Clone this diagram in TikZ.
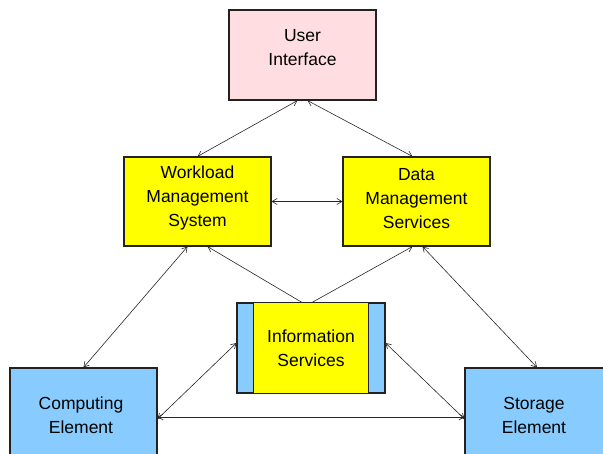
\documentclass[tikz,border=0pt]{standalone}
\usepackage{fontspec}
\setmainfont{Liberation Sans}
\usetikzlibrary{arrows.meta}
\definecolor{uipink}{HTML}{FFDDE1}
\definecolor{boxyellow}{HTML}{FFFF00}
\definecolor{skyblue}{HTML}{88CCFF}
\definecolor{edge}{HTML}{222222}
\tikzset{
  box/.style={draw=edge, line width=1.1pt, rectangle, inner sep=0pt,
    align=center, font=\fontsize{17.5}{24}\selectfont},
  label/.style={inner sep=0pt, align=center, font=\fontsize{17.5}{24}\selectfont},
  link/.style={line width=0.6pt, draw=black!85},
  tip/.style={-{Straight Barb[length=5pt,width=6pt]}},
  both/.style={{Straight Barb[length=5pt,width=6pt]}-{Straight Barb[length=5pt,width=6pt]}}
}
\begin{document}
\begin{tikzpicture}[x=1pt,y=-1pt]
  \useasboundingbox (0,0) rectangle (603,454);
  \clip (0,0) rectangle (603,454);

  % top level
  \node[box, fill=uipink, minimum width=147, minimum height=90] (ui) at (302.5,55) {};
  \node[label] (uitext) at (302.5,48) {User\\Interface};

  % middle level
  \node[box, fill=boxyellow, minimum width=147, minimum height=89] (wms) at (197.5,201.5) {};
  \node[label] (wmstext) at (197.5,198) {Workload\\Management\\System};
  \node[box, fill=boxyellow, minimum width=147, minimum height=89] (dms) at (416.5,201.5) {};
  \node[label] (dmstext) at (416.5,198.5) {Data\\Management\\Services};

  % information services with side bars
  \node[box, fill=skyblue, minimum width=148, minimum height=90] (info) at (311,348) {};
  \draw[edge, line width=1.1pt, fill=boxyellow]
    ([xshift=17pt]info.north west) rectangle ([xshift=-17pt]info.south east);
  \node[label] (infotext) at (311,348) {Information\\Services};

  % bottom level
  \node[box, fill=skyblue, minimum width=147, minimum height=96] (ce) at (83.5,416) {};
  \node[label] (cetext) at (81,415) {Computing\\Element};
  \node[box, fill=skyblue, minimum width=160, minimum height=96] (se) at (545,416) {};
  \node[label] (setext) at (534,415) {Storage\\Element};

  % connectors
  \draw[link, both] ([xshift=-5pt]ui.south) -- ([xshift=0pt]wms.north);
  \draw[link, both] ([xshift=5pt]ui.south) -- ([xshift=-4pt]dms.north);
  \draw[link, both] (wms.east) -- (dms.west);
  \draw[link, both] ([xshift=-10pt]wms.south) -- ([xshift=0pt]ce.north);
  \draw[link, tip] ([xshift=-9pt]info.north) -- ([xshift=10pt]wms.south);
  \draw[link, tip] ([xshift=1pt]info.north) -- ([xshift=-4pt]dms.south);
  \draw[link, both] ([xshift=6pt]dms.south) -- ([xshift=-8pt]se.north);
  \draw[link, both] ([yshift=5pt]info.west) -- ([yshift=-3pt]ce.east);
  \draw[link, both] ([yshift=5pt]info.east) -- ([yshift=-3pt]se.west);
  \draw[link, both] ([yshift=-1pt]ce.east) -- ([yshift=-1pt]se.west);
\end{tikzpicture}
\end{document}
